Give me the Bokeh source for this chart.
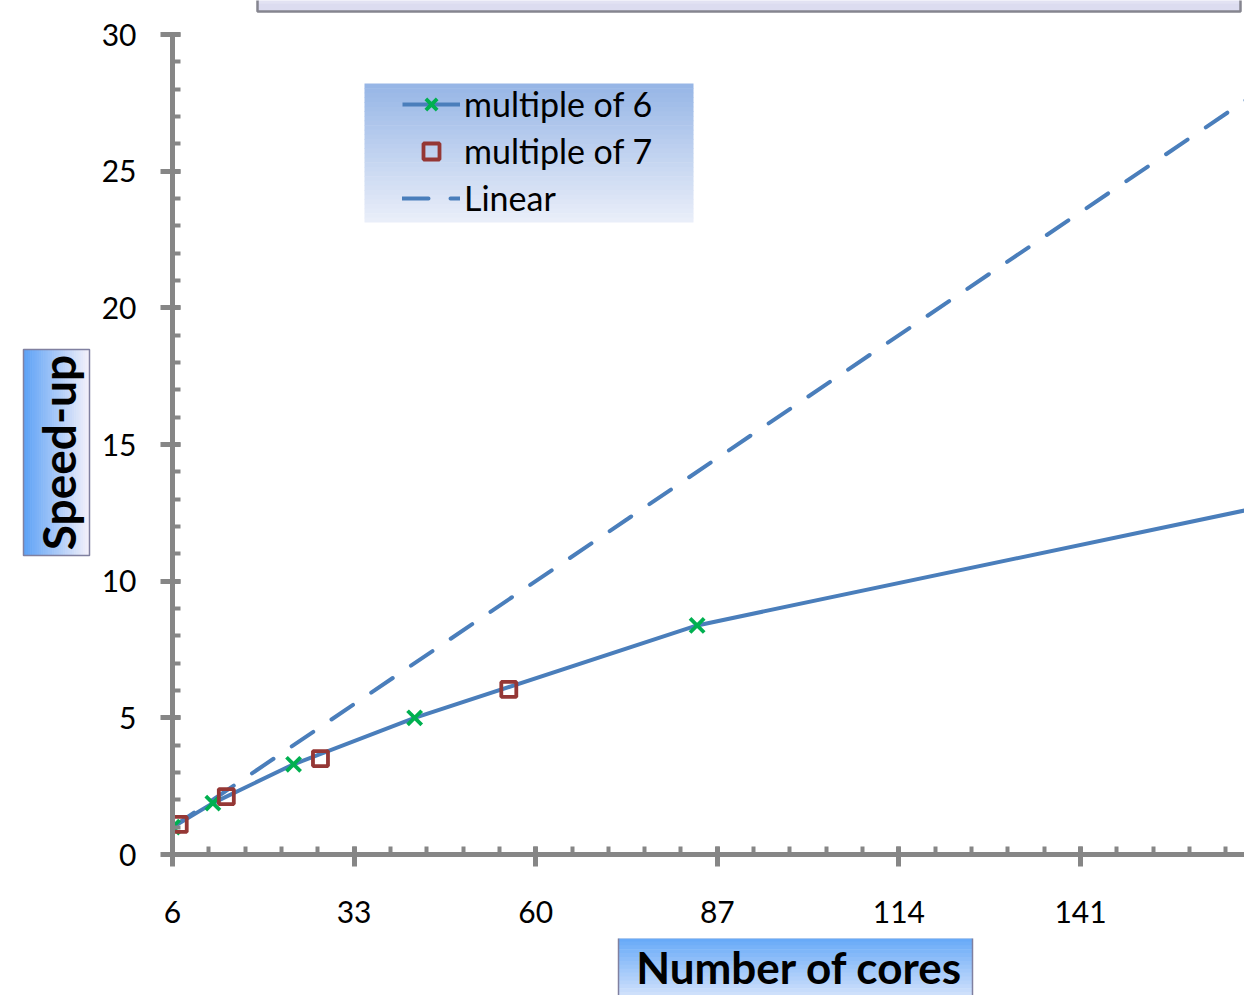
import numpy as np
from bokeh.plotting import figure
from bokeh.layouts import column, row
from bokeh.models import (Range1d, FixedTicker, BoxAnnotation, Label, Legend, LegendItem)
from bokeh.embed import file_html
from bokeh.resources import INLINE

# ---------------- data ----------------
cores_mult6 = [6, 12, 24, 42, 84, 168]
speedup_mult6 = [1.0, 1.88, 3.3, 5.0, 8.38, 12.72]
cores_mult7 = [7, 14, 28, 56]
speedup_mult7 = [1.1, 2.12, 3.51, 6.04]
cores_linear = [6, 168]
speedup_linear = [1.0, 28.0]
x_tick_values = [6, 33, 60, 87, 114, 141, 168]
y_tick_values = [0, 5, 10, 15, 20, 25, 30]
x_label = "Number of cores"
y_label = "Speed-up"

# ---------------- layout constants (canvas px) ----------------
W, H = 1244, 995
TOP_H = 14            # strip holding the (cut-off) title box
YLAB_W = 95           # strip holding the y-axis title
FL, FT, FB = 172, 34, 854   # frame left / top / bottom
BOT = 84              # space under the frame for tick labels
MAIN_BOTTOM = FB + BOT
FONT = "Lato"
BLUE = "#4a7ebb"
AXIS = "#868686"


def hexmix(c1, c2, t):
    a = [int(c1[i:i + 2], 16) for i in (1, 3, 5)]
    b = [int(c2[i:i + 2], 16) for i in (1, 3, 5)]
    return "#%02x%02x%02x" % tuple(int(round(a[k] + (b[k] - a[k]) * t)) for k in range(3))


def deco_fig(x0, x1, y0, y1, top=0, bottom=0):
    # y range maps canvas pixel rows (y0+top .. y1-bottom) onto the frame
    f = figure(width=x1 - x0, height=y1 - y0, output_backend="svg", toolbar_location=None,
               x_range=Range1d(x0, x1), y_range=Range1d(y1 - bottom, y0 + top),
               min_border=0, min_border_left=0, min_border_right=0,
               min_border_top=top, min_border_bottom=bottom)
    f.axis.visible = False
    f.grid.visible = False
    f.outline_line_color = None
    f.background_fill_color = "white"
    f.border_fill_color = "white"
    return f


def grad_quads(f, L, R, T, B, c1, c2, horizontal, n=28, border=None, bw=1.5):
    ls, rs, ts, bs, cs = [], [], [], [], []
    for i in range(n):
        cs.append(hexmix(c1, c2, i / (n - 1)))
        if horizontal:
            ls.append(L + (R - L) * i / n)
            rs.append(min(R, L + (R - L) * (i + 1) / n + 0.6))
            ts.append(T)
            bs.append(B)
        else:
            ls.append(L)
            rs.append(R)
            ts.append(T + (B - T) * i / n)
            bs.append(min(B, T + (B - T) * (i + 1) / n + 0.6))
    f.quad(left=ls, right=rs, top=ts, bottom=bs, fill_color=cs, line_color=None)
    if border:
        f.quad(left=[L], right=[R], top=[T], bottom=[B], fill_alpha=0,
               line_color=border, line_width=bw)


# ---------------- title strip ----------------
top_fig = deco_fig(0, W, 0, TOP_H)
grad_quads(top_fig, 257, 1240, -20, 11, "#eeeef9", "#dcdcf0", False, n=4, border="#85858f",
           bw=2.5)

# ---------------- y-title strip (borders match the main chart so frames align) ----------------
ylab_fig = deco_fig(0, YLAB_W, TOP_H, MAIN_BOTTOM, top=FT - TOP_H, bottom=BOT)
grad_quads(ylab_fig, 23, 89, 349, 555, "#5ea2f6", "#f3f0fa", True, n=30, border="#8080a0")
ylab_fig.add_layout(Label(x=58, y=452, text=y_label, angle=np.pi / 2,
                          text_align="center", text_baseline="middle",
                          text_font=FONT, text_font_style="bold", text_font_size="46px",
                          text_color="black"))

# ---------------- x-title strip ----------------
xlab_fig = deco_fig(0, W, MAIN_BOTTOM, H)
grad_quads(xlab_fig, 618, 972, MAIN_BOTTOM - 1, H + 20, "#68aaf8", "#f3f3fc", False, n=20,
           border="#8080a0")
xlab_fig.add_layout(Label(x=799, y=966, text=x_label, text_align="center",
                          text_baseline="middle", text_font=FONT,
                          text_font_style="bold", text_font_size="44px", text_color="black"))

# ---------------- main chart ----------------
p = figure(width=W - YLAB_W, height=MAIN_BOTTOM - TOP_H, output_backend="svg",
           toolbar_location=None,
           x_range=Range1d(6, 6 + (W - FL) / 6.726), y_range=Range1d(0, 30),
           min_border_left=FL - YLAB_W, min_border_right=0, min_border_top=FT - TOP_H,
           min_border_bottom=BOT)
p.outline_line_color = None
p.background_fill_color = "white"
p.border_fill_color = "white"
p.xgrid.visible = False
p.ygrid.visible = False

for ax in (p.xaxis[0], p.yaxis[0]):
    ax.axis_line_color = AXIS
    ax.axis_line_width = 5
    ax.major_tick_line_color = AXIS
    ax.major_tick_line_width = 5
    ax.minor_tick_line_color = AXIS
    ax.minor_tick_line_width = 4
    ax.major_tick_in = 8
    ax.major_tick_out = 12
    ax.minor_tick_in = 8
    ax.minor_tick_out = 0
    ax.major_label_text_font = FONT
    ax.major_label_text_font_size = "30px"
    ax.major_label_text_color = "black"

step = (x_tick_values[1] - x_tick_values[0]) / 5
p.xaxis[0].ticker = FixedTicker(ticks=x_tick_values,
                                minor_ticks=[x_tick_values[0] + step * i for i in range(1, 31)])
p.xaxis[0].major_label_standoff = 34
p.yaxis[0].ticker = FixedTicker(ticks=y_tick_values, minor_ticks=list(range(0, 31)))
p.yaxis[0].major_label_standoff = 24

# legend background (gradient) inside the frame, frame-relative screen units
n = 30
LL, LR, LT, LB = 364, 693, 83, 222
for i in range(n):
    t0 = LT + (LB - LT) * i / n
    b0 = min(LB, LT + (LB - LT) * (i + 1) / n + 0.6)
    p.add_layout(BoxAnnotation(left=LL - FL, right=LR - FL, top=FB - t0, bottom=FB - b0,
                               left_units="screen", right_units="screen",
                               top_units="screen", bottom_units="screen",
                               fill_color=hexmix("#97b6e6", "#e9eef9", i / (n - 1)),
                               fill_alpha=1.0, line_color=None, level="underlay"))

lin = p.line(cores_linear, speedup_linear, line_color=BLUE, line_width=4,
             line_dash="26 22", line_cap="round")
l6 = p.line(cores_mult6, speedup_mult6, line_color=BLUE, line_width=4)
m6 = p.scatter(cores_mult6, speedup_mult6, marker="x", size=20, line_color="#00b050",
               line_width=3.8)
m7 = p.scatter(cores_mult7, speedup_mult7, marker="square", size=15, line_color="#953735",
               line_width=3.8, fill_alpha=0)

legend = Legend(items=[LegendItem(label="multiple of 6", renderers=[l6, m6]),
                       LegendItem(label="multiple of 7", renderers=[m7]),
                       LegendItem(label="Linear", renderers=[lin])],
                location=(230, 636), orientation="vertical")
legend.background_fill_alpha = 0
legend.border_line_color = None
legend.padding = 0
legend.margin = 0
legend.spacing = 6
legend.glyph_width = 58
legend.glyph_height = 40
legend.label_height = 40
legend.label_standoff = 4
legend.label_text_font = FONT
legend.label_text_font_size = "34px"
legend.label_text_color = "black"
p.add_layout(legend, "center")

layout = column(top_fig, row(ylab_fig, p, spacing=0), xlab_fig, spacing=0)
open("out.html", "w").write(file_html(layout, INLINE))
